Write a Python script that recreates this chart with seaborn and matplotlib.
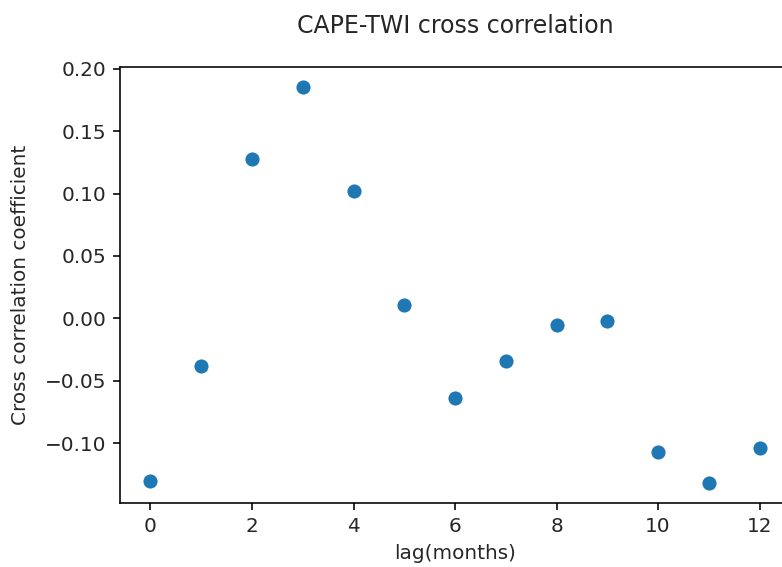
import numpy as np
import pandas as pd
import matplotlib
matplotlib.use("Agg")
import matplotlib.pyplot as plt
import seaborn as sns

# lags (meses) e coeficientes
lags = [0, 1, 2, 3, 4, 5, 6, 7, 8, 9, 10, 11, 12]
coef = [-0.130, -0.038, 0.1275, 0.1855, 0.102, 0.0104, -0.0636, -0.0345,
        -0.0056, -0.0024, -0.107, -0.132, -0.1035]

df = pd.DataFrame({'lag': lags, 'coef': coef})

#Figura
fig = plt.figure(figsize=(782 / 144, 567 / 144), dpi=144)
ax = fig.add_axes([0.1535, 0.1129, 0.8568, 0.769])

#Gráfico
sns.scatterplot(data=df, x='lag', y='coef', ax=ax,
                color='#1f77b4', s=50, linewidth=0)

ax.set_yticks([-0.10, -0.05, 0.00, 0.05, 0.10, 0.15, 0.20])
ax.set_xticks([0, 2, 4, 6, 8, 10, 12])
ax.set_xlim(-0.6, 12.6)

#Texto
txt = '#262626'
ax.set_title('CAPE-TWI cross correlation', fontsize=11.8, pad=17, color=txt)
ax.set_xlabel('lag(months)', fontsize=10, color=txt)
ax.set_ylabel('Cross correlation coefficient', fontsize=10, color=txt, labelpad=7.5)
ax.tick_params(labelsize=10, labelcolor=txt)

fig.savefig('out.png', dpi=144)
